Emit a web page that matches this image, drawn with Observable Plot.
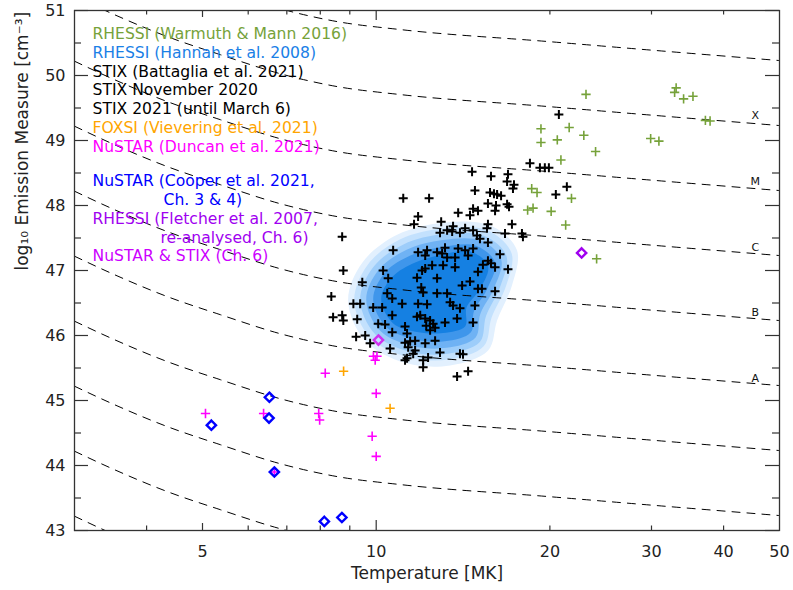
<!DOCTYPE html>
<html><head><meta charset="utf-8">
<script src="https://cdn.jsdelivr.net/npm/d3@7"></script>
<script src="https://cdn.jsdelivr.net/npm/@observablehq/plot@0.6"></script>
<style>body{margin:0;background:#fff}#chart{width:793px;height:590px}</style>
</head><body><div id="chart"></div>
<script>
// ---------- data ----------
// STIX (Battaglia et al. 2021) + STIX Nov 2020 + STIX 2021 : temperature [MK], log10 EM
const stixT = [20.73,18.47,19.22,19.60,19.92,14.66,15.81,16.92,16.86,17.33,14.83,15.75,16.00,16.20,16.46,17.26,21.40,20.48,11.14,12.35,15.62,16.13,16.07,16.86,16.99,14.72,15.01,14.54,13.87,11.82,11.63,12.96,17.19,15.62,15.56,16.72,17.89,17.96,14.26,14.72,13.97,14.95,15.13,13.59,13.54,13.27,12.90,8.73,
  10.70,11.82,12.25,12.16,12.75,13.01,13.16,13.27,13.06,13.70,13.70,14.26,14.72,13.87,14.43,15.62,16.39,15.62,15.31,15.81,16.07,16.92,15.01,14.54,14.09,15.25,15.01,16.07,12.50,12.01,12.16,10.28,8.77,10.49,9.46,11.77,12.75,11.97,12.06,12.75,13.27,10.45,10.66,8.36,9.13,9.38,9.88,10.24,11.09,11.82,12.25,13.43,13.59,13.97,14.83,
  8.42,8.73,8.77,9.27,10.08,10.36,10.66,11.77,11.92,12.16,12.40,12.55,12.65,13.16,13.81,14.72,11.22,11.31,10.66,12.21,12.40,9.23,9.57,9.76,10.57,11.22,11.45,11.68,11.36,11.68,11.59,12.16,12.65,12.90,13.97,14.14,11.22,11.31,12.06,12.06,12.30,13.81,14.43];
const stixEM = [49.40,48.65,48.58,48.58,48.58,48.52,48.45,48.48,48.37,48.32,48.23,48.20,48.18,48.17,48.15,48.26,48.29,48.17,48.11,48.11,48.03,48.00,47.92,48.02,47.98,47.95,47.92,47.85,47.89,47.83,47.71,47.75,47.71,47.71,47.65,47.57,47.57,47.52,47.65,47.62,47.58,47.54,47.49,47.68,47.60,47.62,47.58,47.52,
  47.31,47.28,47.31,47.23,47.28,47.26,47.35,47.20,47.08,47.20,47.05,47.31,47.34,47.34,47.23,47.43,47.25,47.15,47.09,47.11,47.05,47.02,46.98,46.83,46.77,46.72,46.72,46.68,47.08,47.00,47.03,47.00,47.00,46.88,46.82,46.89,46.88,46.74,46.66,46.65,46.65,46.65,46.57,46.60,46.49,46.49,46.43,46.43,46.49,46.49,46.48,46.51,46.46,46.42,46.46,
  46.28,46.31,46.23,46.25,46.18,46.17,46.31,46.29,46.31,46.26,46.23,46.18,46.12,46.20,46.26,46.20,46.14,46.03,46.05,46.15,46.08,45.98,46.00,45.88,45.80,45.89,45.91,45.92,45.82,45.77,45.72,45.88,45.92,45.74,45.72,45.71,45.62,45.65,45.62,45.51,45.66,45.37,45.45];

// RHESSI (Warmuth & Mann 2016)
const warmuthT  = [23.1,33.1,32.9,34.1,35.4,37.2,37.9,19.3,21.6,22.9,19.3,20.6,29.9,30.9,24.0,20.9,18.6,19.0,21.8,18.3,18.7,20.1,21.3,24.1];
const warmuthEM = [49.71,49.81,49.74,49.64,49.68,49.31,49.30,49.18,49.20,49.08,48.97,49.01,49.03,48.99,48.83,48.70,48.26,48.20,48.11,47.93,47.96,47.91,47.70,47.18];

// NuSTAR (Duncan et al. 2021)
const duncanT  = [5.06,6.38,7.95,7.98,8.16,9.89,10.03,9.96,10.0,9.84,10.0,6.66];
const duncanEM = [44.80,44.80,44.80,44.70,45.42,45.68,45.68,45.62,45.11,44.45,44.14,43.90];

// FOXSI (Vievering et al. 2021)
const foxsiT  = [8.78,10.57];
const foxsiEM = [45.45,44.88];

// NuSTAR (Cooper et al. 2021)
const cooperT  = [5.18,6.53,6.52,6.66,8.13,8.72];
const cooperEM = [44.62,45.05,44.73,43.90,43.14,43.20];

// RHESSI (Fletcher et al. 2007, re-analysed)
const fletcherT = [22.7];
const fletcherEM = [47.27];

// NuSTAR & STIX
const nuStixT = [10.09];
const nuStixEM = [45.93];

// RHESSI (Hannah et al. 2008) density contours, outer to inner
const hannahT = [
  [8.94,9.46,10.87,13.16,15.88,17.54,17.19,16.20,15.63,13.43,11.22,9.57],
  [9.16,9.67,11.01,13.12,15.64,17.17,16.79,15.84,15.37,13.36,11.34,9.76],
  [9.38,9.88,11.15,13.08,15.40,16.82,16.40,15.50,15.12,13.30,11.45,9.96],
  [9.61,10.10,11.29,13.04,15.17,16.47,16.01,15.15,14.87,13.23,11.56,10.17],
  [9.88,10.36,11.46,12.99,14.89,16.07,15.58,14.77,14.59,13.15,11.69,10.41],
  [10.20,10.69,11.66,12.93,14.60,15.63,15.09,14.34,14.26,13.06,11.85,10.69]
];
const hannahEM = [
  [46.54,47.12,47.55,47.74,47.68,47.31,46.77,46.23,45.77,45.54,45.58,45.92],
  [46.54,47.09,47.48,47.65,47.61,47.26,46.76,46.27,45.84,45.63,45.67,45.97],
  [46.55,47.05,47.40,47.56,47.53,47.22,46.75,46.30,45.90,45.72,45.75,46.02],
  [46.55,47.01,47.32,47.47,47.46,47.17,46.73,46.33,45.97,45.81,45.84,46.07],
  [46.56,46.97,47.23,47.36,47.38,47.12,46.72,46.37,46.05,45.91,45.94,46.13],
  [46.57,46.91,47.12,47.24,47.29,47.06,46.70,46.43,46.14,46.04,46.05,46.19]
];

// GOES iso-flux curves: shape (log EM above the value at 50 MK) and value at 50 MK of each class line
const goesShapeT = [3.0,3.51,4.34,5.37,6.9,8.55,11.0,20,30,50];
const goesShapeOffset = [1.99,1.71,1.37,1.09,0.785,0.60,0.477,0.29,0.16,0];
const goesLevelAt50 = [41.23,42.23,43.23,44.23,45.23,46.23,47.23,48.23,49.23,50.23];
const classLabels = ["X","M","C","B","A"];
const classLabelT = [45.4,45.4,45.4,45.4,45.4];
const classLabelEM = [49.38,48.37,47.35,46.35,45.34];

// axes
const xTickLabels = [5,10,20,30,40,50];
const xTicksLong = [10];
const xTicksMid = [5];
const xTicksShort = [4,6,7,8,9,20,30,40];
const yTickLabels = [43,44,45,46,47,48,49,50,51];
const yTicksMinor = [43.5,44.5,45.5,46.5,47.5,48.5,49.5,50.5];

// legend
const legendText = ["RHESSI (Warmuth & Mann 2016)","RHESSI (Hannah et al. 2008)","STIX (Battaglia et al. 2021)","STIX November 2020","STIX 2021 (until March 6)","FOXSI (Vievering et al. 2021)","NuSTAR (Duncan et al. 2021)","NuSTAR (Cooper et al. 2021,","Ch. 3 & 4)","RHESSI (Fletcher et al. 2007,","re-analysed, Ch. 6)","NuSTAR & STIX (Ch. 6)"];

// ---------- styling ----------
const C = {green:"#76a23a", hannah:"#1a80e6", black:"#000", orange:"#ffa500", magenta:"#ff00ff", blue:"#0000ff", purple:"#a000f0", nustix:"#cc00ff"};
const legendColor = [C.green,C.hannah,C.black,C.black,C.black,C.orange,C.magenta,C.blue,C.blue,C.purple,C.purple,C.nustix];
const legendDy = [23,42,61,79.5,98,117,136,170,189.5,208,227,245];
const legendDx = [18,18,18,18,18,18,18,18,89,18,86,18];
const blobColors = ["#e2f0fe","#c3e1fd","#9dcdfa","#6fb2f4","#3f96eb","#1580e2"];

const pts = (T, E) => T.map((t,i) => ({T:t, EM:E[i]}));
const goesRows = goesLevelAt50.flatMap(l => goesShapeT.map((t,i) => ({T:t, EM:l+goesShapeOffset[i], level:l})));

const W = 793, H = 590, mL = 74, mR = 14, mT = 10, mB = 60;
const pw = W - mL - mR, ph = H - mT - mB;
const axisColor = "#333";

const marks = [];
hannahT.forEach((Ts, k) => {
  marks.push(Plot.line(pts(Ts, hannahEM[k]), {x:"T", y:"EM", fill: blobColors[k], stroke:"none", curve:"catmull-rom-closed"}));
});
marks.push(Plot.line(goesRows, {x:"T", y:"EM", z:"level", stroke:"#000", strokeWidth:1, strokeDasharray:"8,7", curve:"monotone-x", clip:true}));
marks.push(Plot.text(classLabels.map((c,i)=>({c, T:classLabelT[i], EM:classLabelEM[i]})), {x:"T", y:"EM", text:"c", fontSize:11, fill:"#111"}));
marks.push(Plot.dot(pts(duncanT, duncanEM), {x:"T", y:"EM", symbol:"plus", r:3.1, stroke:C.magenta, strokeWidth:1.6}));
marks.push(Plot.dot(pts(foxsiT, foxsiEM), {x:"T", y:"EM", symbol:"plus", r:3.1, stroke:C.orange, strokeWidth:1.6}));
marks.push(Plot.dot(pts(warmuthT, warmuthEM), {x:"T", y:"EM", symbol:"plus", r:3.1, stroke:C.green, strokeWidth:1.6}));
marks.push(Plot.dot(pts(stixT, stixEM), {x:"T", y:"EM", symbol:"plus", r:3.0, stroke:"#000", strokeWidth:2}));
marks.push(Plot.dot(pts(cooperT, cooperEM), {x:"T", y:"EM", symbol:"diamond2", r:4.2, stroke:C.blue, strokeWidth:2.4}));
marks.push(Plot.dot(pts(fletcherT, fletcherEM), {x:"T", y:"EM", symbol:"diamond2", r:4.2, stroke:C.purple, strokeWidth:2.4}));
marks.push(Plot.dot(pts(nuStixT, nuStixEM), {x:"T", y:"EM", symbol:"diamond2", r:4.2, stroke:"#d030f0", strokeWidth:2.4}));

// frame and ticks (inward, on all four sides)
marks.push(Plot.frame({stroke:axisColor, strokeWidth:1.3}));
marks.push(Plot.tickY(yTickLabels, {y:d=>d, insetRight: pw-14, stroke:axisColor, strokeWidth:1.2}));
marks.push(Plot.tickY(yTicksMinor, {y:d=>d, insetRight: pw-7, stroke:axisColor, strokeWidth:1.2}));
marks.push(Plot.tickY(yTickLabels, {y:d=>d, insetLeft: pw-14, stroke:axisColor, strokeWidth:1.2}));
marks.push(Plot.tickY(yTicksMinor, {y:d=>d, insetLeft: pw-7, stroke:axisColor, strokeWidth:1.2}));
[[xTicksLong,10],[xTicksMid,7],[xTicksShort,4.5]].forEach(([tk,len]) => {
  marks.push(Plot.tickX(tk, {x:d=>d, insetTop: ph-len, stroke:axisColor, strokeWidth:1.2}));
  marks.push(Plot.tickX(tk, {x:d=>d, insetBottom: ph-len, stroke:axisColor, strokeWidth:1.2}));
});
marks.push(Plot.axisX(xTickLabels, {tickSize:0, tickPadding:15, fontSize:16, tickFormat:d=>String(d), label:null}));
marks.push(Plot.axisY(yTickLabels, {tickSize:0, tickPadding:9, fontSize:16, tickFormat:d=>String(d), label:null}));
marks.push(Plot.text(["Temperature [MK]"], {frameAnchor:"bottom", dy:43, fontSize:17, lineAnchor:"middle", fill:"#222"}));
marks.push(Plot.text(["log₁₀ Emission Measure [cm⁻³]"], {frameAnchor:"left", dx:-52, rotate:-90, fontSize:17, lineAnchor:"middle", fill:"#222"}));

// legend
legendText.forEach((t,i) => {
  marks.push(Plot.text([t], {frameAnchor:"top-left", dx:legendDx[i], dy:legendDy[i], textAnchor:"start", lineAnchor:"middle", fontSize:15.6, fill:legendColor[i]}));
});

const chart = Plot.plot({
  width: W, height: H,
  marginLeft: mL, marginRight: mR, marginTop: mT, marginBottom: mB,
  x: {type:"log", domain:[3,50]},
  y: {domain:[43,51]},
  style: {fontFamily:"DejaVu Sans, sans-serif", background:"#fff", color:"#222"},
  marks
});
document.getElementById("chart").append(chart);
</script></body></html>
